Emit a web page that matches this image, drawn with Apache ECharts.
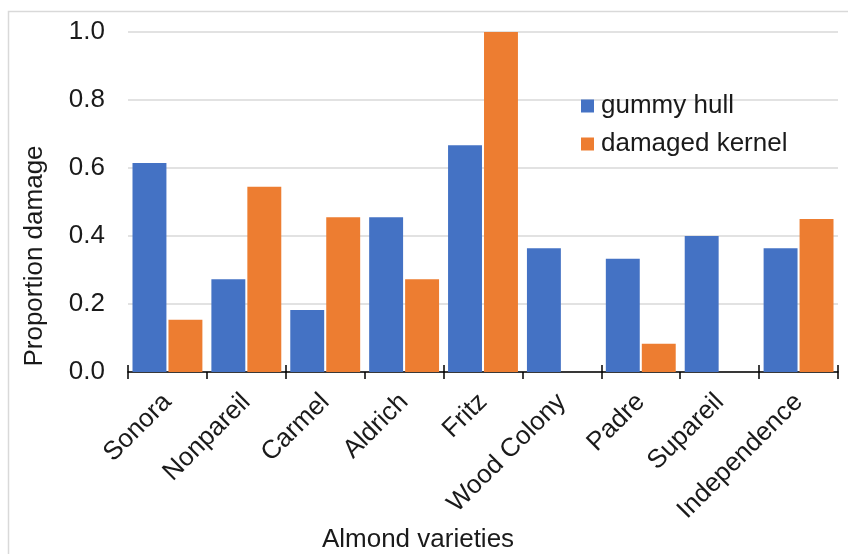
<!DOCTYPE html>
<html>
<head>
<meta charset="utf-8">
<script src="https://cdn.jsdelivr.net/npm/echarts@6/dist/echarts.min.js"></script>
<style>
  html, body { margin: 0; padding: 0; background: #fff; }
  #chart { width: 848px; height: 554px; }
</style>
</head>
<body>
<div id="chart"></div>
<script>
// Almond varieties and the proportion of nuts with each kind of damage
const varieties = ['Sonora', 'Nonpareil', 'Carmel', 'Aldrich', 'Fritz', 'Wood Colony', 'Padre', 'Supareil', 'Independence'];
const gummyHull = [0.615, 0.273, 0.182, 0.455, 0.667, 0.364, 0.333, 0.4, 0.364];
const damagedKernel = [0.154, 0.545, 0.455, 0.273, 1.0, 0, 0.083, 0, 0.45];
const seriesNames = ['gummy hull', 'damaged kernel'];
const xTitle = 'Almond varieties';
const yTitle = 'Proportion damage';

const FONT = '"Liberation Sans", Arial, sans-serif';
const TEXT = '#1a1a1a';
const FS = 26;

const chart = echarts.init(document.getElementById('chart'), null, { renderer: 'canvas' });

chart.setOption({
  animation: false,
  color: ['#4472C4', '#ED7D31'],
  textStyle: { fontFamily: FONT, color: TEXT },
  grid: { left: 128, right: 10, top: 32, bottom: 182, containLabel: false, outerBoundsMode: 'none' },
  legend: {
    data: seriesNames,
    orient: 'vertical',
    left: 581,
    top: 93,
    padding: 0,
    itemWidth: 13,
    itemHeight: 13,
    itemGap: 12,
    icon: 'rect',
    textStyle: { fontFamily: FONT, fontSize: FS, color: TEXT, padding: [0, 0, 0, 2] }
  },
  xAxis: [
    {
      type: 'category',
      data: varieties,
      axisLine: { lineStyle: { color: '#000', width: 1.5 } },
      axisTick: { show: true, length: 7, lineStyle: { color: '#000', width: 1.5 } },
      axisLabel: { rotate: 45, fontFamily: FONT, fontSize: FS, color: TEXT, margin: 26, interval: 0 }
    },
    {
      // upward half of the crossing tick marks
      type: 'category',
      data: varieties,
      position: 'bottom',
      axisLine: { show: false },
      axisTick: { show: true, inside: true, length: 7, lineStyle: { color: '#000', width: 1.5 } },
      axisLabel: { show: false }
    }
  ],
  yAxis: {
    type: 'value',
    min: 0,
    max: 1,
    interval: 0.2,
    axisLine: { show: false },
    axisTick: { show: false },
    splitLine: { lineStyle: { color: '#d9d9d9', width: 1.5 } },
    axisLabel: {
      fontFamily: FONT, fontSize: FS, color: TEXT, margin: 23,
      formatter: v => v.toFixed(1)
    }
  },
  graphic: [
    {
      type: 'rect',
      silent: true,
      shape: { x: 8.5, y: 11.5, width: 900, height: 600 },
      style: { fill: 'none', stroke: '#d9d9d9', lineWidth: 1.5 }
    },
    {
      type: 'text',
      x: 35,
      y: 256,
      rotation: Math.PI / 2,
      style: {
        text: yTitle,
        font: FS + 'px ' + FONT,
        fill: TEXT,
        textAlign: 'center',
        textVerticalAlign: 'middle'
      }
    },
    {
      type: 'text',
      x: 418,
      y: 540,
      style: {
        text: xTitle,
        font: FS + 'px ' + FONT,
        fill: TEXT,
        textAlign: 'center',
        textVerticalAlign: 'middle'
      }
    }
  ],
  series: [
    {
      name: seriesNames[0],
      type: 'bar',
      data: gummyHull,
      barGap: '6%',
      barCategoryGap: '11.4%'
    },
    {
      name: seriesNames[1],
      type: 'bar',
      data: damagedKernel,
      barGap: '6%',
      barCategoryGap: '11.4%'
    }
  ]
});
</script>
</body>
</html>
